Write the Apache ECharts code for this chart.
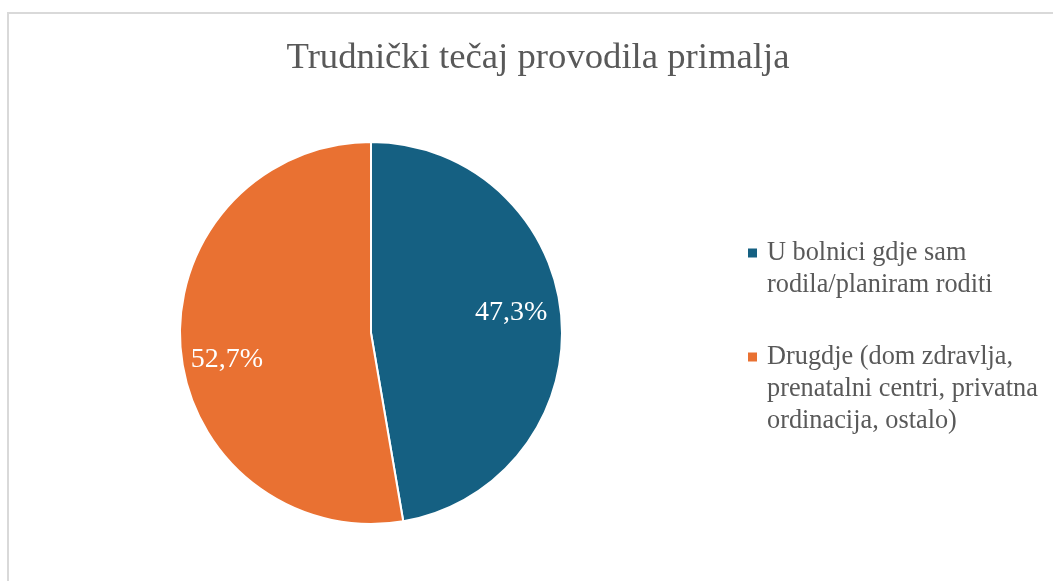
<!DOCTYPE html>
<html><head><meta charset="utf-8">
<script src="https://cdn.jsdelivr.net/npm/echarts@6/dist/echarts.min.js"></script>
<style>html,body{margin:0;padding:0;background:#fff}#c{width:1053px;height:581px}</style>
</head><body><div id="c"></div>
<script>
const titleText = 'Trudnički tečaj provodila primalja';
const categories = ['U bolnici gdje sam\nrodila/planiram roditi', 'Drugdje (dom zdravlja,\nprenatalni centri, privatna\nordinacija, ostalo)'];
const values = [47.3, 52.7];
const colors = ['#156082', '#E97132'];
const labelOffsets = [[42, -12], [-46, 18]];
const font = '"Liberation Serif", "Times New Roman", serif';

const chart = echarts.init(document.getElementById('c'));
const data = categories.map((n, i) => ({
  name: n, value: values[i],
  itemStyle: { color: colors[i] },
  label: { offset: labelOffsets[i] }
}));
const rich = { g: { width: 10 }, i: { width: 19 },
  t: { fontFamily: font, fontSize: 26.3, color: '#595959', lineHeight: 32 } };
colors.forEach((c, i) => { rich['m' + i] = { width: 9, height: 9, backgroundColor: c, lineHeight: 32 }; });
chart.setOption({
  animation: false,
  title: { text: titleText, top: 40, left: 538, textAlign: 'center', padding: 0,
    textStyle: { fontFamily: font, fontSize: 36.7, fontWeight: 'normal', color: '#595959' } },
  graphic: [{ type: 'rect', shape: { x: 8, y: 13, width: 1100, height: 620 },
    style: { fill: 'none', stroke: '#d9d9d9', lineWidth: 2 }, silent: true }],
  legend: {
    orient: 'vertical', left: 743, top: 237, padding: 0, itemGap: 40,
    icon: 'none', itemWidth: 0, itemHeight: 0,
    textStyle: { rich: rich, lineHeight: 32 },
    formatter: name => {
      const idx = categories.indexOf(name);
      return name.split('\n').map((l, k) => (k === 0 ? '{m' + idx + '|}{g|}' : '{i|}') + '{t|' + l + '}').join('\n');
    }
  },
  series: [{
    type: 'pie', center: [371, 333], radius: 191, startAngle: 90, clockwise: true,
    itemStyle: { borderColor: '#fff', borderWidth: 2 },
    label: { show: true, position: 'inside', fontFamily: font, fontSize: 28, color: '#fff',
      formatter: p => p.value.toFixed(1).replace('.', ',') + '%' },
    labelLine: { show: false },
    data: data
  }]
});
</script></body></html>
